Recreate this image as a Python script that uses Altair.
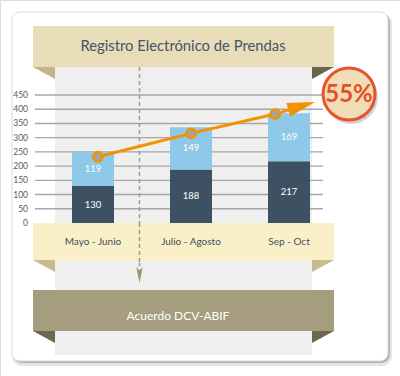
import altair as alt
import pandas as pd

# ---- data ----
categories = ["Mayo - Junio", "Julio - Agosto", "Sep - Oct"]
dark_values = [130, 188, 217]
light_values = [119, 149, 169]
line_x = [0.05, 1.0, 1.86]          # marker positions (category index units)
line_values = [233, 315, 383]
arrow_end = [2.13, 412]              # where the trend arrow ends
y_ticks = [0, 50, 100, 150, 200, 250, 300, 350, 400, 450]
title_text = "Registro Electrónico de Prendas"
footer_text = "Acuerdo DCV-ABIF"

FONT = "Lato"
X = alt.Scale(domain=[0, 2], range=[88, 294], nice=False, zero=False)
Y = alt.Scale(domain=[0, 450], range=[223, 95], nice=False, zero=False)

one = pd.DataFrame({"k": [0]})


def rect(x, x2, y, y2, color, **kw):
    return alt.Chart(one).mark_rect(color=color, **kw).encode(
        x=alt.value(x), x2=alt.value(x2), y=alt.value(y), y2=alt.value(y2))


def shape(path, cx, cy, size, color, **kw):
    return alt.Chart(one).mark_point(shape=path, size=size, filled=True, fill=color,
                                     strokeWidth=0, opacity=1, **kw).encode(
        x=alt.value(cx), y=alt.value(cy))


def label(text, cx, cy, size, color, weight="normal"):
    return alt.Chart(pd.DataFrame({"t": [text]})).mark_text(
        font=FONT, fontSize=size, color=color, fontWeight=weight,
        align="center", baseline="middle").encode(
        x=alt.value(cx), y=alt.value(cy), text="t:N")


TL = "M-1,-0.5455L1,-0.5455L1,0.5455Z"    # fold under left end
TR = "M-1,-0.5455L1,-0.5455L-1,0.5455Z"   # fold under right end

# ---- table for bars ----
rows = []
for i, (c, d, l) in enumerate(zip(categories, dark_values, light_values)):
    rows.append({"idx": i, "cat": c, "seg": "dark", "y0": 0, "y1": d, "v": d, "mid": d / 2})
    rows.append({"idx": i, "cat": c, "seg": "light", "y0": d, "y1": d + l, "v": l, "mid": d + l / 2})
bars_df = pd.DataFrame(rows)
cats_df = pd.DataFrame({"idx": list(range(len(categories))), "cat": categories})
line_df = pd.DataFrame({"x": line_x, "y": line_values})
arrow_df = pd.DataFrame({"x": [line_x[-1], arrow_end[0]], "y": [line_values[-1], arrow_end[1]]})
head_df = pd.DataFrame({"x": [arrow_end[0]], "y": [arrow_end[1]]})
ticks_df = pd.DataFrame({"v": y_ticks})

tot_first = dark_values[0] + light_values[0]
tot_last = dark_values[-1] + light_values[-1]
growth = f"{round((tot_last / tot_first - 1) * 100)}%"

# ---- card and ribbons ----
card_shadow2 = rect(12, 392, 14, 366, "#000000", cornerRadius=10, opacity=0.10)
card_shadow = rect(13, 390, 13, 363, "#000000", cornerRadius=9, opacity=0.22)
card = rect(12, 388, 12, 361, "#FFFFFF", cornerRadius=8, stroke="#D9D9D9", strokeWidth=1)
panel = rect(55, 312, 67, 355, "#EFEFEF")

top_banner = rect(33, 334, 26, 67, "#E9DCB8")
top_fold_l = shape(TL, 44, 73, 484, "#C4B58A")
top_fold_r = shape(TR, 323, 73, 484, "#6C6650")
title = label(title_text, 183, 47, 14.8, "#44546A")

grid = alt.Chart(ticks_df).transform_filter("datum.v > 0").mark_rule(
    color="#A6A6A6", strokeWidth=1.4).encode(
    y=alt.Y("v:Q", scale=Y, axis=None), x=alt.value(35), x2=alt.value(323))
ylabels = alt.Chart(ticks_df).mark_text(
    font=FONT, fontSize=8.5, color="#595959", align="right", baseline="middle").encode(
    y=alt.Y("v:Q", scale=Y, axis=None), x=alt.value(28), text="v:Q")

dash_line = alt.Chart(one).mark_rule(color="#A39B7B", strokeWidth=1.5, strokeDash=[4, 3]).encode(
    x=alt.value(139.5), y=alt.value(67), y2=alt.value(266))

bars = alt.Chart(bars_df).mark_bar(size=42).encode(
    x=alt.X("idx:Q", scale=X, axis=None),
    y=alt.Y("y0:Q", scale=Y, axis=None), y2="y1:Q",
    color=alt.Color("seg:N", scale=alt.Scale(domain=["dark", "light"],
                                            range=["#3E5163", "#8FC9EA"]), legend=None))
bar_text = alt.Chart(bars_df).mark_text(
    font=FONT, fontSize=9.5, color="#FFFFFF", align="center", baseline="middle").encode(
    x=alt.X("idx:Q", scale=X, axis=None), y=alt.Y("mid:Q", scale=Y, axis=None), text="v:Q")

band = rect(33, 334, 223, 260, "#FAF0C8")
band_fold_l = shape(TL, 44, 266, 484, "#C8BB8F")
band_fold_r = shape(TR, 323, 266, 484, "#C8BB8F")
cat_text = alt.Chart(cats_df).mark_text(
    font=FONT, fontSize=10, color="#3F4E5E", align="center", baseline="middle").encode(
    x=alt.X("idx:Q", scale=X, axis=None), y=alt.value(242), text="cat:N")

dash_over = alt.Chart(one).mark_rule(color="#A39B7B", strokeWidth=1.5, strokeDash=[4, 3]).encode(
    x=alt.value(139.5), y=alt.value(223), y2=alt.value(266))
dash_head = shape("M0,1L-0.4,-1L0,-0.55L0.4,-1Z", 139.5, 275, 256, "#9C9474")

bottom_banner = rect(33, 334, 290, 331, "#A59D7D")
bottom_fold_l = shape(TL, 44, 337, 484, "#6E6750")
bottom_fold_r = shape(TR, 323, 337, 484, "#6E6750")
footer = label(footer_text, 178, 316, 12, "#FFFFFF")

arrow = alt.Chart(arrow_df).mark_line(color="#F39200", strokeWidth=3).encode(
    x=alt.X("x:Q", scale=X, axis=None), y=alt.Y("y:Q", scale=Y, axis=None))
line = alt.Chart(line_df).mark_line(color="#F39200", strokeWidth=3).encode(
    x=alt.X("x:Q", scale=X, axis=None), y=alt.Y("y:Q", scale=Y, axis=None))
head = alt.Chart(head_df).mark_point(
    shape="M1,0L-1,-0.5L-1,0.5Z", size=784, angle=344, filled=True,
    fill="#F39200", strokeWidth=0, opacity=1).encode(
    x=alt.X("x:Q", scale=X, axis=None), y=alt.Y("y:Q", scale=Y, axis=None))
pts = alt.Chart(line_df).mark_point(
    shape="circle", size=85, filled=True, fill="#A3A3A3", stroke="#F39200",
    strokeWidth=2.6, opacity=1).encode(
    x=alt.X("x:Q", scale=X, axis=None), y=alt.Y("y:Q", scale=Y, axis=None))

badge_shadow = alt.Chart(one).mark_point(shape="circle", size=2900, filled=True,
                                         fill="#000000", opacity=0.18, strokeWidth=0).encode(
    x=alt.value(351), y=alt.value(97))
badge = alt.Chart(one).mark_point(shape="circle", size=2700, filled=True, fill="#EFDDB7",
                                  stroke="#E8532B", strokeWidth=3, opacity=1).encode(
    x=alt.value(349), y=alt.value(94))
badge_text = label(growth, 349, 95, 24, "#E84E23", weight="bold")

chart = alt.layer(
    card_shadow2, card_shadow, card, panel,
    top_banner, top_fold_l, top_fold_r, title,
    grid, ylabels, dash_line, bars, bar_text,
    band, band_fold_l, band_fold_r, cat_text, dash_over, dash_head,
    bottom_banner, bottom_fold_l, bottom_fold_r, footer,
    line, arrow, head, pts,
    badge_shadow, badge, badge_text,
).properties(
    width=400, height=376, padding=0, autosize=alt.AutoSizeParams(type="none")
).configure_view(stroke=None).configure(background="#FFFFFF")

chart.save("out.html", embed_options={"renderer": "svg", "actions": False})
